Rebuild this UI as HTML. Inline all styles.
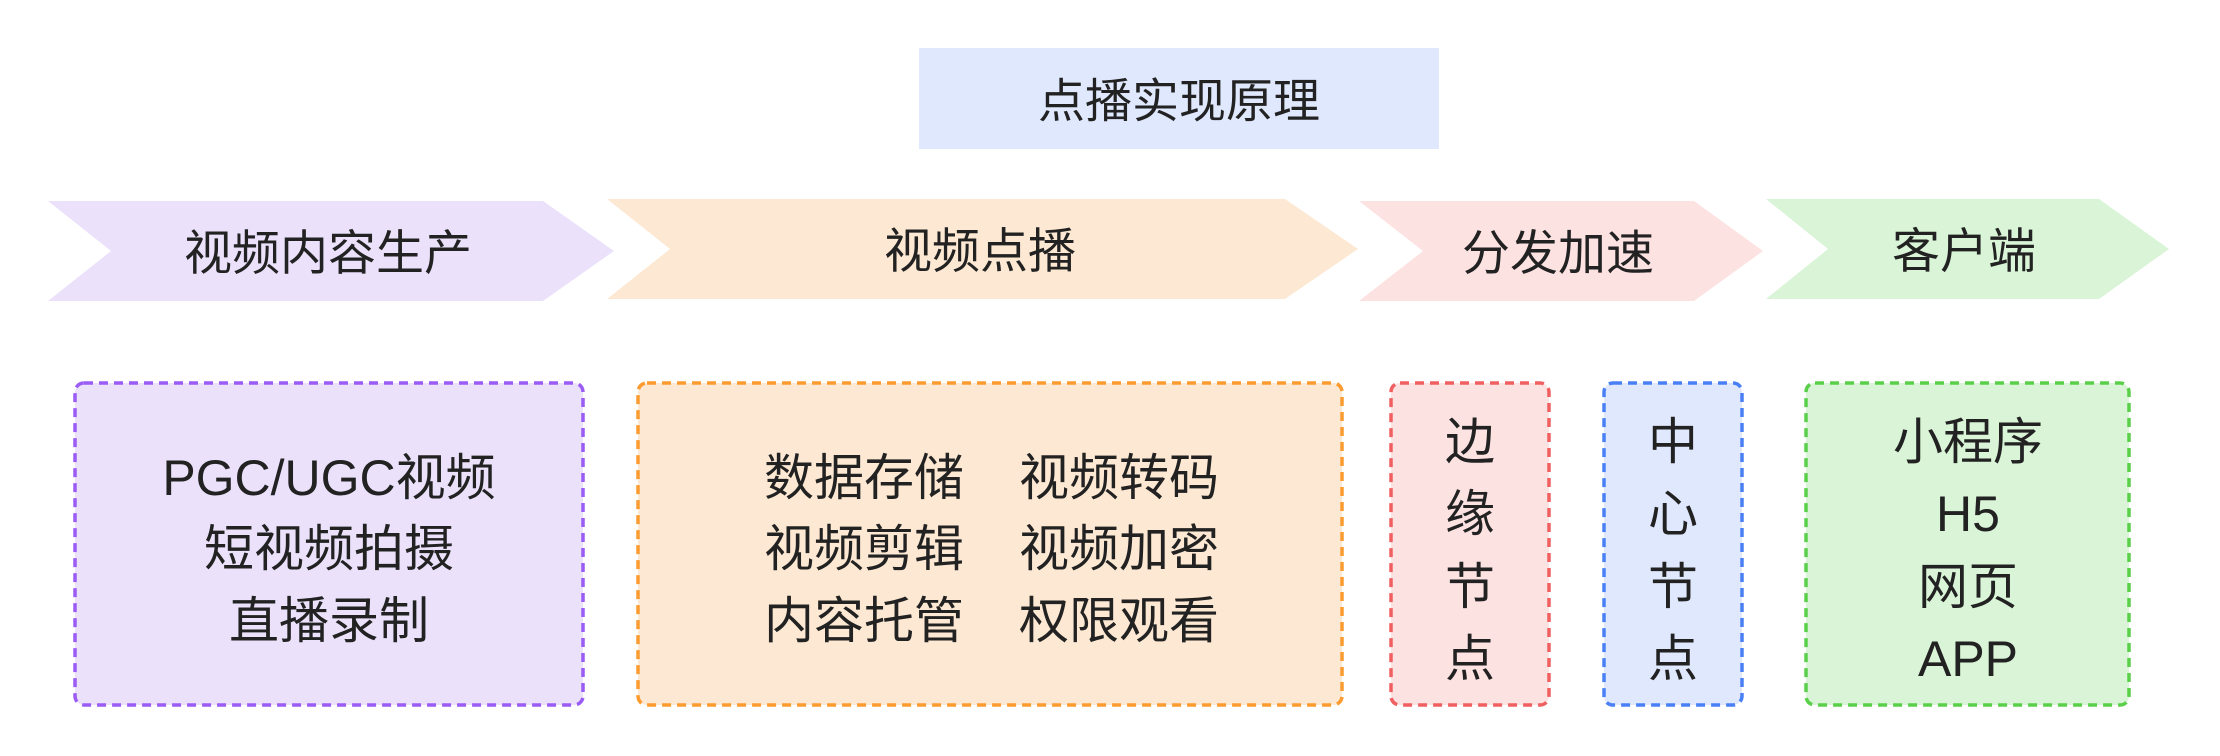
<!DOCTYPE html>
<html><head><meta charset="utf-8"><style>
html,body{margin:0;padding:0;background:#fff;}
svg{display:block;}
text{font-family:"Liberation Sans","Noto Sans CJK SC",sans-serif;fill:#222;text-anchor:middle;dominant-baseline:central;}
</style></head><body>
<svg width="2220" height="756" viewBox="0 0 2220 756" xmlns="http://www.w3.org/2000/svg">
<rect x="919" y="48" width="520" height="101" fill="#e0e8fd"/>
<text x="1179" y="101" font-size="47">点播实现原理</text>

<polygon points="48,201 543,201 614,251 543,301 48,301 111,251" fill="#ebe1fb"/>
<polygon points="607,199 1285,199 1358,249 1285,299 607,299 670,249" fill="#fde9d3"/>
<polygon points="1359,201 1694,201 1763,251 1694,301 1359,301 1423,251" fill="#fde2e2"/>
<polygon points="1766,199 2099,199 2169,249 2099,299 1766,299 1828,249" fill="#d9f4d6"/>
<text x="328" y="254" font-size="48">视频内容生产</text>
<text x="980" y="252" font-size="48">视频点播</text>
<text x="1558" y="254" font-size="48">分发加速</text>
<text x="1964" y="252" font-size="48">客户端</text>

<g stroke-width="3.5" stroke-dasharray="9 6">
<rect x="75" y="383" width="508" height="322" rx="9" fill="#ebe1fb" stroke="#9a5cf5"/>
<rect x="638" y="383" width="704" height="322" rx="9" fill="#fde9d3" stroke="#fb9b30"/>
<rect x="1391" y="383" width="158" height="322" rx="9" fill="#fde2e2" stroke="#f06060"/>
<rect x="1604" y="383" width="138" height="322" rx="9" fill="#e0e8fd" stroke="#4a80f5"/>
<rect x="1806" y="383" width="323" height="322" rx="9" fill="#d9f4d6" stroke="#5ad04a"/>
</g>

<g font-size="50">
<text x="329" y="478">PGC/UGC视频</text>
<text x="329" y="549">短视频拍摄</text>
<text x="329" y="621">直播录制</text>

<text x="864" y="478">数据存储</text>
<text x="864" y="549">视频剪辑</text>
<text x="864" y="621">内容托管</text>
<text x="1119" y="478">视频转码</text>
<text x="1119" y="549">视频加密</text>
<text x="1119" y="621">权限观看</text>

<text x="1470" y="442">边</text>
<text x="1470" y="514">缘</text>
<text x="1470" y="587">节</text>
<text x="1470" y="659">点</text>

<text x="1673" y="442">中</text>
<text x="1673" y="514">心</text>
<text x="1673" y="587">节</text>
<text x="1673" y="659">点</text>

<text x="1968" y="442">小程序</text>
<text x="1968" y="514">H5</text>
<text x="1968" y="587">网页</text>
<text x="1968" y="659">APP</text>
</g>
</svg>
</body></html>
